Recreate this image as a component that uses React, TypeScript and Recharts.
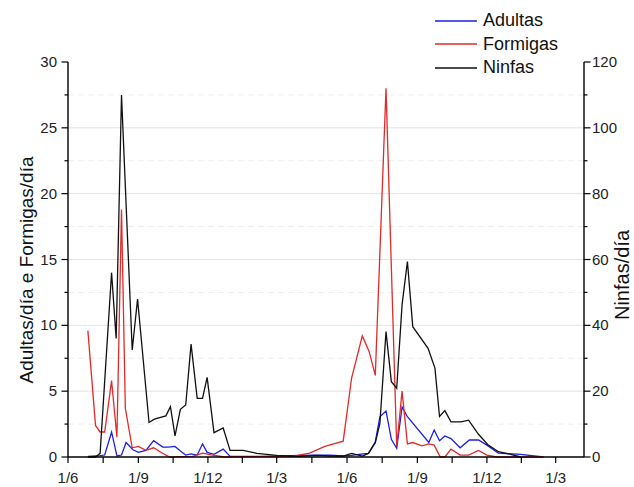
import { LineChart, Line, XAxis, YAxis, ReferenceLine, Legend } from "recharts"

const FONT = '"Liberation Sans", Arial, sans-serif'

// days counted from 1 June of the first season
const quarterDays = [0, 92, 183, 273, 365, 457, 548, 638]
const quarterLabels = ["1/6", "1/9", "1/12", "1/3", "1/6", "1/9", "1/12", "1/3"]

const adultasDias = [26, 42, 48, 57, 64, 70, 76, 85, 92, 102, 112, 124, 131, 140, 147, 154, 161, 169, 176, 182, 191, 203, 212, 251, 320, 343, 360, 371, 386, 393, 402, 408, 416, 423, 430, 437, 444, 472, 479, 486, 493, 501, 513, 525, 537, 548, 563, 592, 622]
const adultas = [0.05, 0.1, 0.15, 1.9, 0.08, 0.15, 1.1, 0.55, 0.35, 0.5, 1.24, 0.75, 0.75, 0.8, 0.45, 0.15, 0.23, 0.15, 1.0, 0.35, 0.2, 0.6, 0.05, 0.05, 0.15, 0.15, 0.08, 0.12, 0.23, 0.28, 1.16, 3.06, 3.5, 1.34, 0.66, 3.8, 3.06, 1.1, 2.05, 1.24, 1.6, 1.4, 0.7, 1.29, 1.29, 0.9, 0.3, 0.2, 0]

const formigasDias = [26, 36, 42, 48, 57, 64, 70, 75, 84, 92, 102, 112, 123, 133, 163, 176, 189, 205, 294, 316, 336, 360, 371, 385, 394, 402, 416, 430, 437, 444, 451, 463, 472, 479, 487, 493, 501, 513, 524, 537, 548, 561, 622]
const formigas = [9.6, 2.4, 1.9, 1.9, 5.8, 1.5, 18.8, 3.7, 0.7, 0.8, 0.5, 0.7, 0.3, 0, 0.05, 0.3, 0.15, 0, 0.05, 0.3, 0.8, 1.2, 6.0, 9.2, 8.0, 6.2, 28.0, 0.8, 5.0, 1.0, 1.1, 0.85, 1.0, 0.9, 0, 0, 0.6, 0.15, 0.15, 0.5, 0.15, 0, 0]

const ninfasDias = [26, 36, 42, 57, 63, 70, 84, 91, 106, 113, 128, 134, 140, 147, 154, 161, 169, 176, 182, 191, 203, 212, 229, 247, 273, 303, 326, 343, 360, 371, 385, 393, 402, 408, 416, 423, 430, 437, 444, 451, 471, 480, 486, 493, 501, 514, 524, 537, 549, 563, 578, 592]
const ninfas = [0, 0, 1.1, 56, 36, 110, 32.5, 48, 10.5, 11.5, 12.5, 15.3, 6.4, 14.5, 15.8, 34.3, 17.8, 17.8, 24.2, 7.4, 8.8, 2.0, 2.0, 1.1, 0.5, 0.2, 0.5, 0.3, 0.3, 1.1, 0.3, 1.1, 4.3, 10.2, 38.1, 22.9, 20.9, 46.2, 59.4, 39.6, 33, 27, 12.3, 14.1, 10.7, 10.7, 11.2, 6.9, 3.8, 1.6, 0.9, 0]

const toRows = (days: number[], values: number[]) => days.map((day, i) => ({ day, v: values[i] }))

// major ticks on the quarters, minor ticks half way between them
const xTicks = quarterDays.flatMap((d, i) =>
  i < quarterDays.length - 1 ? [d, (d + quarterDays[i + 1]) / 2] : [d]
)
const leftTicks = Array.from({ length: 13 }, (_, i) => i * 2.5)
const rightTicks = Array.from({ length: 13 }, (_, i) => i * 10)
const majorGrid = [5, 10, 15, 20, 25]
const minorGrid = [2.5, 7.5, 12.5, 17.5, 22.5, 27.5]

function DateTick({ x, y, payload }: any) {
  const i = quarterDays.indexOf(payload.value)
  return (
    <g>
      <line x1={x} x2={x} y1={y} y2={y + 6} stroke="#000" strokeWidth={1.2} />
      {i >= 0 && (
        <text x={x} y={y + 26} textAnchor="middle" fontSize={15} fill="#222" fontFamily={FONT}>
          {quarterLabels[i]}
        </text>
      )}
    </g>
  )
}

function LeftTick({ x, y, payload }: any) {
  const major = payload.value % 5 === 0
  return (
    <g>
      <line x1={x - (major ? 6.5 : 3.5)} x2={x} y1={y} y2={y} stroke="#000" strokeWidth={1.2} />
      {major && (
        <text x={x - 11} y={y} dy={5} textAnchor="end" fontSize={15} fill="#222" fontFamily={FONT}>
          {payload.value}
        </text>
      )}
    </g>
  )
}

function RightTick({ x, y, payload }: any) {
  const major = payload.value % 20 === 0
  return (
    <g>
      <line x1={x} x2={x + (major ? 6.5 : 3.5)} y1={y} y2={y} stroke="#000" strokeWidth={1.2} />
      {major && (
        <text x={x + 8} y={y} dy={5} textAnchor="start" fontSize={15} fill="#222" fontFamily={FONT}>
          {payload.value}
        </text>
      )}
    </g>
  )
}

function AxisTitle({ titleX, titleY, title, size = 19 }: any) {
  return (
    <text
      x={titleX}
      y={titleY}
      transform={`rotate(-90 ${titleX} ${titleY})`}
      textAnchor="middle"
      dominantBaseline="central"
      fontSize={size}
      fill="#111"
      fontFamily={FONT}
    >
      {title}
    </text>
  )
}

function SeriesKey({ payload }: any) {
  return (
    <div style={{ fontFamily: FONT, fontSize: 18, color: "#111" }}>
      {(payload ?? []).map((p: any) => (
        <div key={p.value} style={{ display: "flex", alignItems: "center", height: 23.5 }}>
          <svg width={42} height={4}>
            <line x1={0} x2={42} y1={2} y2={2} stroke={p.color} strokeWidth={1.5} />
          </svg>
          <span style={{ marginLeft: 6, lineHeight: "23.5px" }}>{p.value}</span>
        </div>
      ))}
    </div>
  )
}

export default function App() {
  return (
    <div style={{ position: "absolute", left: 0, top: 0, width: 634, height: 487, background: "#fff" }}>
      <LineChart width={634} height={487} margin={{ top: 62, right: 0, bottom: 0, left: 0 }}>
        {minorGrid.map((v) => (
          <ReferenceLine key={`m${v}`} yAxisId="left" y={v} stroke="#eeeeee" strokeDasharray="6 4" />
        ))}
        {majorGrid.map((v) => (
          <ReferenceLine key={`M${v}`} yAxisId="left" y={v} stroke="#e2e2e2" />
        ))}
        <XAxis
          type="number"
          dataKey="day"
          domain={[0, 675]}
          ticks={xTicks}
          interval={0}
          height={30}
          tickSize={0}
          tickMargin={0}
          tickLine={false}
          tick={<DateTick />}
          axisLine={{ stroke: "#000", strokeWidth: 1.6 }}
          allowDataOverflow
        />
        <YAxis
          yAxisId="left"
          orientation="left"
          domain={[0, 30]}
          ticks={leftTicks}
          interval={0}
          width={68}
          tickSize={0}
          tickMargin={0}
          tickLine={false}
          tick={<LeftTick />}
          axisLine={{ stroke: "#000", strokeWidth: 1.4 }}
          label={<AxisTitle titleX={26} titleY={270} title="Adultas/día e Formigas/día" />}
        />
        <YAxis
          yAxisId="right"
          orientation="right"
          domain={[0, 120]}
          ticks={rightTicks}
          interval={0}
          width={50}
          tickSize={0}
          tickMargin={0}
          tickLine={false}
          tick={<RightTick />}
          axisLine={{ stroke: "#000", strokeWidth: 1.4 }}
          label={<AxisTitle titleX={622} titleY={275} size={20} title="Ninfas/día" />}
        />
        <Legend
          layout="horizontal"
          verticalAlign="middle"
          align="center"
          content={<SeriesKey />}
          wrapperStyle={{ left: 435, top: 9, width: 190 }}
        />
        <Line
          yAxisId="left"
          data={toRows(adultasDias, adultas)}
          dataKey="v"
          name="Adultas"
          type="linear"
          stroke="#1e1ee6"
          strokeWidth={1.3}
          dot={false}
          isAnimationActive={false}
        />
        <Line
          yAxisId="left"
          data={toRows(formigasDias, formigas)}
          dataKey="v"
          name="Formigas"
          type="linear"
          stroke="#e12a2a"
          strokeWidth={1.3}
          dot={false}
          isAnimationActive={false}
        />
        <Line
          yAxisId="right"
          data={toRows(ninfasDias, ninfas)}
          dataKey="v"
          name="Ninfas"
          type="linear"
          stroke="#111"
          strokeWidth={1.3}
          dot={false}
          isAnimationActive={false}
        />
      </LineChart>
    </div>
  )
}
